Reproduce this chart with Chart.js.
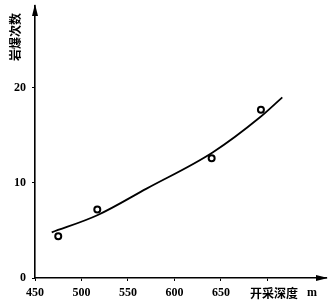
<!DOCTYPE html>
<html>
<head>
<meta charset="utf-8">
<script src="https://cdn.jsdelivr.net/npm/chart.js@4/dist/chart.umd.min.js"></script>
<style>
  html, body { margin: 0; padding: 0; background: #fff; }
  #wrap { width: 333px; height: 303px; }
</style>
</head>
<body>
<div id="wrap"><canvas id="grafico"></canvas></div>
<script>
// dados
const profundidadePontos = [475, 517, 640, 693];
const rockburstPontos = [4.4, 7.2, 12.6, 17.7];

// curva ajustada
const profundidadeCurva = [468, 517, 570, 641, 692, 716];
const rockburstCurva = [4.8, 6.6, 9.4, 13.2, 16.9, 19.0];

const xTicks = [450, 500, 550, 600, 650, 700];
const xTickLabels = ['450', '500', '550', '600', '650', ''];
const yTicks = [0, 10, 20];

const tituloY = '岩爆次数';
const tituloX = '开采深度';
const unidadeX = 'm';

const fonteNum = { family: '"Liberation Serif", serif', size: 12, weight: 'bold' };
const fonteCJK = 'bold 12px "Noto Sans CJK SC"';

// setas e títulos dos eixos
const eixosPlugin = {
    id: 'eixos',
    afterDraw(chart) {
        const ctx = chart.ctx;
        const a = chart.chartArea;
        const x = chart.scales.x;
        ctx.save();
        ctx.fillStyle = '#000';
        // seta eixo y
        ctx.beginPath();
        ctx.moveTo(a.left, a.top - 2);
        ctx.lineTo(a.left - 3, a.top + 10);
        ctx.lineTo(a.left + 3, a.top + 10);
        ctx.closePath();
        ctx.fill();
        // seta eixo x
        ctx.beginPath();
        ctx.moveTo(a.right + 2, a.bottom);
        ctx.lineTo(a.right - 10, a.bottom - 3);
        ctx.lineTo(a.right - 10, a.bottom + 3);
        ctx.closePath();
        ctx.fill();
        // título y
        ctx.font = fonteCJK;
        ctx.textAlign = 'center';
        ctx.textBaseline = 'middle';
        ctx.save();
        ctx.translate(15, 37);
        ctx.rotate(-Math.PI / 2);
        ctx.fillText(tituloY, 0, 0);
        ctx.restore();
        // título x
        ctx.fillText(tituloX, x.getPixelForValue(707), a.bottom + 15);
        ctx.font = 'bold 12px "Liberation Serif"';
        ctx.fillText(unidadeX, x.getPixelForValue(748), a.bottom + 15);
        ctx.restore();
    }
};

new Chart(document.getElementById('grafico'), {
    type: 'scatter',
    data: {
        datasets: [
            {
                data: profundidadeCurva.map((v, i) => ({ x: v, y: rockburstCurva[i] })),
                showLine: true,
                borderColor: '#000',
                borderWidth: 1.8,
                pointRadius: 0,
                cubicInterpolationMode: 'monotone',
                fill: false
            },
            {
                data: profundidadePontos.map((v, i) => ({ x: v, y: rockburstPontos[i] })),
                showLine: false,
                borderColor: '#000',
                backgroundColor: '#fff',
                borderWidth: 2,
                pointRadius: 3
            }
        ]
    },
    options: {
        responsive: true,
        maintainAspectRatio: false,
        animation: false,
        layout: { padding: { top: 6, right: 7, left: 0, bottom: 0 } },
        plugins: {
            legend: { display: false },
            tooltip: { enabled: false }
        },
        scales: {
            x: {
                type: 'linear',
                min: 450,
                max: 763,
                afterBuildTicks: s => { s.ticks = xTicks.map(v => ({ value: v })); },
                afterFit: s => { s.height = 25; },
                ticks: {
                    color: '#000',
                    font: fonteNum,
                    padding: 5,
                    maxRotation: 0,
                    callback: (v) => xTickLabels[xTicks.indexOf(v)]
                },
                grid: { display: true, drawOnChartArea: false, color: '#000', tickLength: 3 },
                border: { color: '#000', width: 1.6 }
            },
            y: {
                min: 0,
                max: 28.6,
                afterBuildTicks: s => { s.ticks = yTicks.map(v => ({ value: v })); },
                afterFit: s => { s.width = 35; s.paddingTop = 0; },
                ticks: { color: '#000', font: fonteNum, padding: 6 },
                grid: { display: true, drawOnChartArea: false, color: '#000', tickLength: 3 },
                border: { color: '#000', width: 1.6 }
            }
        }
    },
    plugins: [eixosPlugin]
});
</script>
</body>
</html>
